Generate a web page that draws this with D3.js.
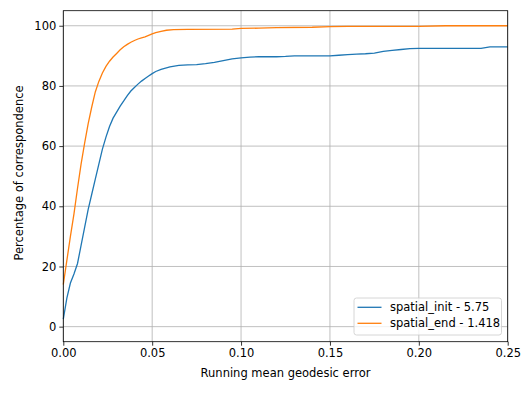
<!DOCTYPE html>
<html><head><meta charset="utf-8">
<script src="https://cdn.jsdelivr.net/npm/d3@7"></script>
<style>body{margin:0;background:#fff}svg{display:block}text{font-family:"DejaVu Sans",sans-serif;fill:#000}</style>
</head><body><svg id="c" width="530" height="394"></svg>
<script>
const xTicks = [0, 0.05, 0.10, 0.15, 0.20, 0.25];
const xTickLabels = ["0.00", "0.05", "0.10", "0.15", "0.20", "0.25"];
const yTicks = [0, 20, 40, 60, 80, 100];
const seriesNames = ["spatial_init - 5.75", "spatial_end - 1.418"];
const seriesColors = ["#1f77b4", "#ff7f0e"];
const initX = [0,0.002,0.004,0.006,0.008,0.010,0.012,0.014,0.016,0.018,0.020,0.022,0.024,0.026,0.028,0.030,0.032,0.034,0.036,0.038,0.040,0.042,0.044,0.046,0.048,0.050,0.052,0.055,0.060,0.065,0.070,0.075,0.080,0.085,0.090,0.095,0.100,0.105,0.110,0.120,0.125,0.130,0.150,0.155,0.160,0.165,0.170,0.175,0.180,0.185,0.190,0.195,0.200,0.235,0.240,0.250];
const initY = [2.5,9.5,14.5,17.5,21,27,33,39,44,49,54,59,63,66.5,69.3,71.3,73.3,75,76.8,78.3,79.5,80.6,81.6,82.5,83.3,84.1,84.8,85.5,86.3,86.8,87,87.1,87.4,87.8,88.4,89,89.3,89.6,89.7,89.7,89.8,90,90,90.2,90.4,90.6,90.7,90.9,91.5,91.8,92.1,92.4,92.5,92.5,93,93];
const endX = [0,0.002,0.004,0.006,0.008,0.010,0.012,0.014,0.016,0.018,0.020,0.022,0.024,0.026,0.028,0.030,0.032,0.034,0.036,0.038,0.040,0.042,0.044,0.046,0.048,0.050,0.052,0.055,0.058,0.062,0.070,0.095,0.100,0.110,0.120,0.140,0.150,0.160,0.200,0.215,0.250];
const endY = [14,22,30,37.5,46,54,61,67.5,73,78,81.5,84.3,86.5,88.2,89.6,90.8,92,93,93.8,94.5,95.1,95.6,96,96.3,96.8,97.3,97.7,98.1,98.5,98.7,98.8,98.9,99.1,99.2,99.4,99.5,99.7,99.8,99.8,100,100];

const FS = "11.5px";
const svg = d3.select("#c");
const L = 63.3, R = 507.7, T = 10.7, B = 341.7;
const x = d3.scaleLinear().domain([0, 0.25]).range([L, R]);
const y = d3.scaleLinear().domain([-5, 105]).range([B, T]);

// grid
const g = svg.append("g");
g.selectAll(".gx").data(xTicks).enter().append("line")
  .attr("x1", d => x(d)).attr("x2", d => x(d)).attr("y1", T).attr("y2", B)
  .attr("stroke", "#b0b0b0").attr("stroke-width", 0.8);
g.selectAll(".gy").data(yTicks).enter().append("line")
  .attr("y1", d => y(d)).attr("y2", d => y(d)).attr("x1", L).attr("x2", R)
  .attr("stroke", "#b0b0b0").attr("stroke-width", 0.8);

const line = d3.line().x(d => x(d[0])).y(d => y(d[1]));
const series = [d3.zip(initX, initY), d3.zip(endX, endY)];
series.forEach((s, i) => {
  svg.append("path").datum(s).attr("d", line).attr("fill", "none")
    .attr("stroke", seriesColors[i]).attr("stroke-width", 1.3);
});

// axes
const xAxis = d3.axisBottom(x).tickValues(xTicks).tickFormat((d, i) => xTickLabels[i]).tickSize(4).tickPadding(3);
const yAxis = d3.axisLeft(y).tickValues(yTicks).tickSize(4).tickPadding(3);
const gx = svg.append("g").attr("transform", `translate(0,${B})`).call(xAxis);
const gy = svg.append("g").attr("transform", `translate(${L},0)`).call(yAxis);
[gx, gy].forEach(a => {
  a.select(".domain").remove();
  a.selectAll("line").attr("stroke", "#000").attr("stroke-width", 0.8);
  a.selectAll("text").attr("font-size", FS).attr("font-family", "DejaVu Sans").attr("fill", "#000");
});
svg.append("rect").attr("x", L).attr("y", T).attr("width", R - L).attr("height", B - T)
  .attr("fill", "none").attr("stroke", "#000").attr("stroke-width", 0.8);

svg.append("text").attr("x", (L + R) / 2).attr("y", 377).attr("text-anchor", "middle")
  .attr("font-size", FS).text("Running mean geodesic error");
svg.append("text").attr("transform", `translate(22.5,173) rotate(-90)`).attr("text-anchor", "middle")
  .attr("font-size", FS).text("Percentage of correspondence");

// legend
const lg = svg.append("g");
lg.append("rect").attr("x", 354).attr("y", 298).attr("width", 147.5).attr("height", 37).attr("rx", 2.5)
  .attr("fill", "#fff").attr("fill-opacity", 0.8).attr("stroke", "#cccccc").attr("stroke-width", 0.8);
seriesNames.forEach((n, i) => {
  const yy = 307.3 + i * 16;
  lg.append("line").attr("x1", 357.5).attr("x2", 381.5).attr("y1", yy).attr("y2", yy)
    .attr("stroke", seriesColors[i]).attr("stroke-width", 1.3);
  lg.append("text").attr("x", 390).attr("y", yy + 4).attr("font-size", FS).text(n);
});
</script></body></html>
